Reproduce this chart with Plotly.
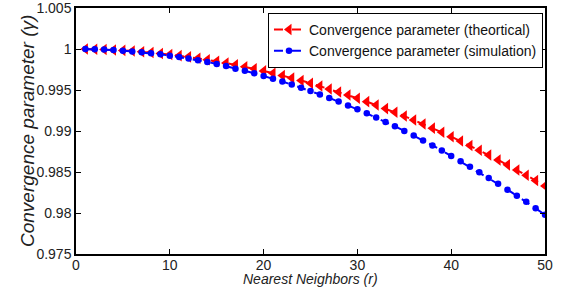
import plotly.graph_objects as go

r_values = list(range(1, 51))

theoretical = [
    0.99999, 0.99997, 0.99994, 0.99989, 0.99983, 0.99976, 0.99967, 0.99957, 0.99946, 0.99933,
    0.99919, 0.99904, 0.99887, 0.99869, 0.99850, 0.99829, 0.99807, 0.99784, 0.99759, 0.99733,
    0.99705, 0.99677, 0.99647, 0.99615, 0.99583, 0.99548, 0.99513, 0.99476, 0.99438, 0.99399,
    0.99358, 0.99316, 0.99273, 0.99228, 0.99182, 0.99134, 0.99086, 0.99035, 0.98984, 0.98931,
    0.98877, 0.98822, 0.98765, 0.98707, 0.98647, 0.98587, 0.98524, 0.98461, 0.98396, 0.98330,
]

simulation = [
    0.99999, 0.99997, 0.99993, 0.99987, 0.99980, 0.99971, 0.99960, 0.99948, 0.99935, 0.99919,
    0.99902, 0.99884, 0.99863, 0.99842, 0.99818, 0.99793, 0.99760, 0.99734, 0.99704, 0.99672,
    0.99638, 0.99603, 0.99566, 0.99528, 0.99488, 0.99446, 0.99403, 0.99359, 0.99312, 0.99264,
    0.99215, 0.99164, 0.99111, 0.99057, 0.99001, 0.98944, 0.98885, 0.98824, 0.98762, 0.98694,
    0.98630, 0.98565, 0.98497, 0.98428, 0.98357, 0.98285, 0.98211, 0.98136, 0.98058, 0.97978,
]

x_ticks = [0, 10, 20, 30, 40, 50]
y_ticks = [0.975, 0.98, 0.985, 0.99, 0.995, 1.0, 1.005]
y_tick_labels = ["0.975", "0.98", "0.985", "0.99", "0.995", "1", "1.005"]

x_title = "Nearest Neighbors (r)"
y_title = "Convergence parameter (γ)"

FONT = "Liberation Sans, Arial, sans-serif"

fig = go.Figure()
fig.add_trace(go.Scatter(
    x=r_values, y=theoretical, mode="lines+markers",
    name="Convergence parameter (theortical)",
    line=dict(color="#ff0000", width=2, dash="dash"),
    marker=dict(symbol="triangle-left", size=10, color="#ff0000"),
))
fig.add_trace(go.Scatter(
    x=r_values, y=simulation, mode="lines+markers",
    name="Convergence parameter (simulation)",
    line=dict(color="#0000ff", width=2, dash="dash"),
    marker=dict(symbol="circle", size=6.5, color="#0000ff"),
))

axis_common = dict(
    showgrid=False, zeroline=False, showline=True, linecolor="black", linewidth=1.5,
    mirror="ticks", ticks="inside", ticklen=5, tickcolor="black", tickwidth=1,
    tickfont=dict(family=FONT, size=14, color="#222"), automargin=False,
    ticklabeloverflow="allow",
)

fig.update_layout(
    width=562, height=293,
    margin=dict(l=76, r=17, t=8, b=39),
    paper_bgcolor="white", plot_bgcolor="white",
    font=dict(family=FONT, color="#222"),
    xaxis=dict(range=[0, 50], tickvals=x_ticks, ticklabelstandoff=-3, **axis_common),
    yaxis=dict(range=[0.975, 1.005], tickvals=y_ticks, ticktext=y_tick_labels, **axis_common),
    legend=dict(x=0.9957, y=0.98, xanchor="right", yanchor="top",
                bgcolor="white", bordercolor="black", borderwidth=1,
                font=dict(family=FONT, size=14, color="#111"),
                tracegroupgap=0, itemwidth=30),
    showlegend=True,
    annotations=[
        dict(text=f"<i>{x_title}</i>", xref="paper", yref="paper", x=0.5, y=-0.1016,
             xanchor="center", yanchor="middle", showarrow=False,
             font=dict(family=FONT, size=14, color="#222")),
        dict(text=f"<i>{y_title}</i>", xref="paper", yref="paper", x=-0.1045, y=0.5,
             xanchor="center", yanchor="middle", textangle=-90, showarrow=False,
             font=dict(family=FONT, size=19, color="#222")),
    ],
)

fig.write_html("out.html", config={"displayModeBar": False},
               post_script="document.body.style.margin='0';")
